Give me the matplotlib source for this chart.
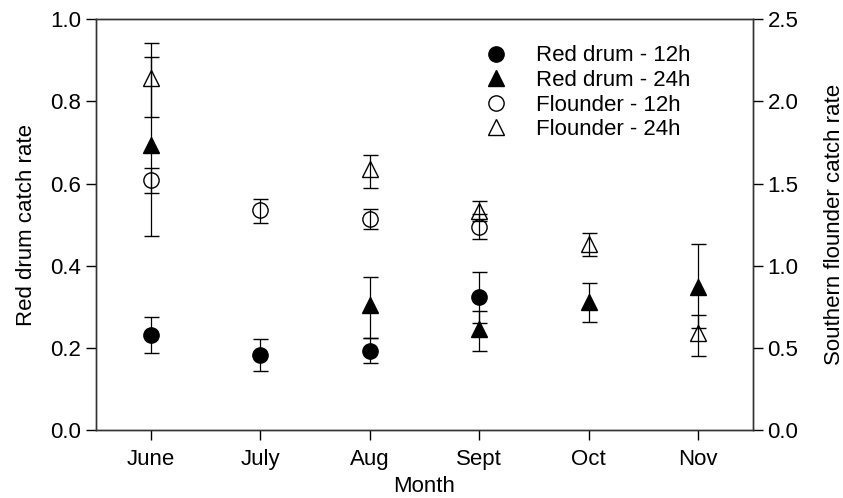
import numpy as np
import matplotlib
matplotlib.use('Agg')
import matplotlib.pyplot as plt

plt.rcParams['font.family'] = ['Liberation Sans', 'DejaVu Sans']

months = ['June', 'July', 'Aug', 'Sept', 'Oct', 'Nov']
x = np.arange(6, 12)
nan = np.nan

# red drum (left axis): value, upper error, lower error
rd12 = [0.231, 0.182, 0.192, 0.323, nan, nan]
rd12_up = [0.045, 0.039, 0.033, 0.061, nan, nan]
rd12_lo = [0.044, 0.038, 0.030, 0.062, nan, nan]

rd24 = [0.693, nan, 0.304, 0.246, 0.312, 0.349]
rd24_up = [0.216, nan, 0.068, 0.044, 0.046, 0.103]
rd24_lo = [0.220, nan, 0.081, 0.054, 0.050, 0.100]

# southern flounder (right axis)
fl12 = [1.521, 1.338, 1.283, 1.237, nan, nan]
fl12_up = [0.077, 0.069, 0.061, 0.077, nan, nan]
fl12_lo = [0.078, 0.077, 0.062, 0.077, nan, nan]

fl24 = [2.145, nan, 1.586, 1.334, 1.131, 0.588]
fl24_up = [0.211, nan, 0.091, 0.063, 0.066, 0.112]
fl24_lo = [0.239, nan, 0.110, 0.064, 0.073, 0.136]

fs = 16

fig = plt.figure(figsize=(8.43, 4.98), dpi=100)
ax = fig.add_axes([0.1139, 0.1365, 0.7793, 0.8247])
ax2 = ax.twinx()

ekw = dict(linestyle='none', ecolor='black', elinewidth=0.9, capsize=5.4,
           capthick=0.9, markersize=11, markeredgewidth=1.0)

h1 = ax.errorbar(x, rd12, yerr=[rd12_lo, rd12_up], fmt='o', color='black', **ekw)
h2 = ax.errorbar(x, rd24, yerr=[rd24_lo, rd24_up], fmt='^', color='black', **ekw)
h3 = ax2.errorbar(x, fl12, yerr=[fl12_lo, fl12_up], fmt='o', mfc='none', mec='black',
                  color='black', **ekw)
h4 = ax2.errorbar(x, fl24, yerr=[fl24_lo, fl24_up], fmt='^', mfc='none', mec='black',
                  color='black', **ekw)

ax.set_xlim(5.5, 11.5)
ax.set_ylim(0, 1.0)
ax2.set_ylim(0, 2.5)
ax.set_xticks(x)
ax.set_xticklabels(months)
ax.set_yticks(np.arange(0, 1.01, 0.2))
ax2.set_yticks(np.arange(0, 2.51, 0.5))
ax.yaxis.set_major_formatter(matplotlib.ticker.FormatStrFormatter('%.1f'))
ax2.yaxis.set_major_formatter(matplotlib.ticker.FormatStrFormatter('%.1f'))

for a in (ax, ax2):
    a.tick_params(direction='out', length=7, width=1, labelsize=fs, colors='black')
    for s in a.spines.values():
        s.set_linewidth(1)
        s.set_color('#333333')
ax.tick_params(axis='x', pad=7)

ax.set_xlabel('Month', fontsize=fs, labelpad=4)
ax.set_ylabel('Red drum catch rate', fontsize=fs, labelpad=10)
ax2.set_ylabel('Southern flounder catch rate', fontsize=fs, labelpad=18)

leg_handles = [h1[0], h2[0], h3[0], h4[0]]
labels = ['Red drum - 12h', 'Red drum - 24h', 'Flounder - 12h', 'Flounder - 24h']
leg = ax2.legend(leg_handles, labels, loc='upper left', bbox_to_anchor=(0.575, 0.958),
                 frameon=False, fontsize=fs, numpoints=1, handlelength=1.2,
                 handletextpad=1.2, labelspacing=0.16, borderaxespad=0)

fig.savefig('out.png', dpi=100)
